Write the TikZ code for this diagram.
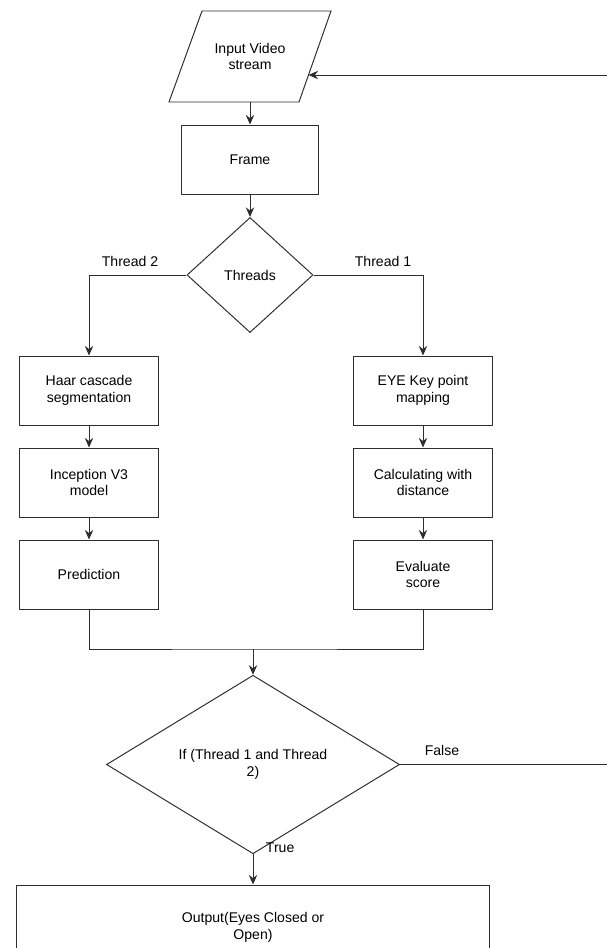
\documentclass[tikz,border=0pt]{standalone}
\usepackage{fontspec}
\setmainfont{Liberation Sans}
\usetikzlibrary{shapes.geometric,arrows.meta}
\begin{document}
\begin{tikzpicture}[x=0.025cm, y=-0.025cm, font=\fontsize{10}{12}\selectfont,
        box/.style={draw=linegray, line width=0.7pt, rectangle, align=center, minimum width=3.475cm, minimum height=1.725cm, inner sep=0pt},
        decision/.style={draw=linegray, line width=0.7pt, diamond, align=center, inner sep=0pt},
        flow/.style={draw=linegray, line width=0.7pt, -{Stealth[length=2.4mm, width=2.1mm, inset=0.8mm]}},
        plain/.style={draw=linegray, line width=0.7pt}]
            \definecolor{linegray}{gray}{0.18};
            \useasboundingbox (0,0) rectangle (606,948);

            \coordinate (iotl) at (202,11);
            \coordinate (iotr) at (331,11);
            \coordinate (iobr) at (299,102);
            \coordinate (iobl) at (169,102);
            \coordinate (ioside) at (308.5,75);
            \draw[plain] (iotl) -- (iotr) -- (iobr) -- (iobl) -- cycle;
            \node[align=center, minimum width=3.25cm, minimum height=2.275cm, inner sep=0pt] (input) at (250,56.5) {Input Video\\stream};
            \node[box, minimum width=3.425cm] (frame) at (250,159.5) {Frame};
            \node[decision, minimum width=3.15cm, minimum height=2.875cm] (threads) at (250,275) {Threads};

            \node[box] (haar) at (89,390.5) {Haar cascade\\segmentation};
            \node[box] (incep) at (89,482.5) {Inception V3\\model};
            \node[box] (pred) at (89,574.5) {Prediction};

            \node[box] (eye) at (423,390.5) {EYE Key point\\mapping};
            \node[box] (calc) at (423,482.5) {Calculating with\\distance};
            \node[box] (eval) at (423,574.5) {Evaluate\\score};

            \coordinate (join) at (253,649);
            \node[decision, minimum width=7.325cm, minimum height=3.725cm] (cond) at (253,764.5) {If (Thread 1 and Thread\\2)};
            \node[box, minimum width=11.8cm, minimum height=2.1cm] (output) at (253,927) {Output(Eyes Closed or\\Open)};
            \coordinate (loop) at (616,764.5);

            \node (t2) at (130,261) {Thread 2};
            \node (t1) at (383,261) {Thread 1};
            \node (false) at (442,750) {False};
            \node[anchor=west] (true) at (261,848) {True};

            \draw[flow] (input) -- (frame);
            \draw[flow] (frame) -- (threads);
            \draw[flow] (threads.west) -| (haar);
            \draw[flow] (threads.east) -| (eye);
            \draw[flow] (haar) -- (incep);
            \draw[flow] (incep) -- (pred);
            \draw[flow] (eye) -- (calc);
            \draw[flow] (calc) -- (eval);
            \draw[plain] (pred) |- (join) -| (eval);
            \draw[flow] (join) -- (cond);
            \draw[flow] (cond) -- (output);
            \draw[flow] (cond.east) -- (loop) |- (ioside);

        \end{tikzpicture}
\end{document}
